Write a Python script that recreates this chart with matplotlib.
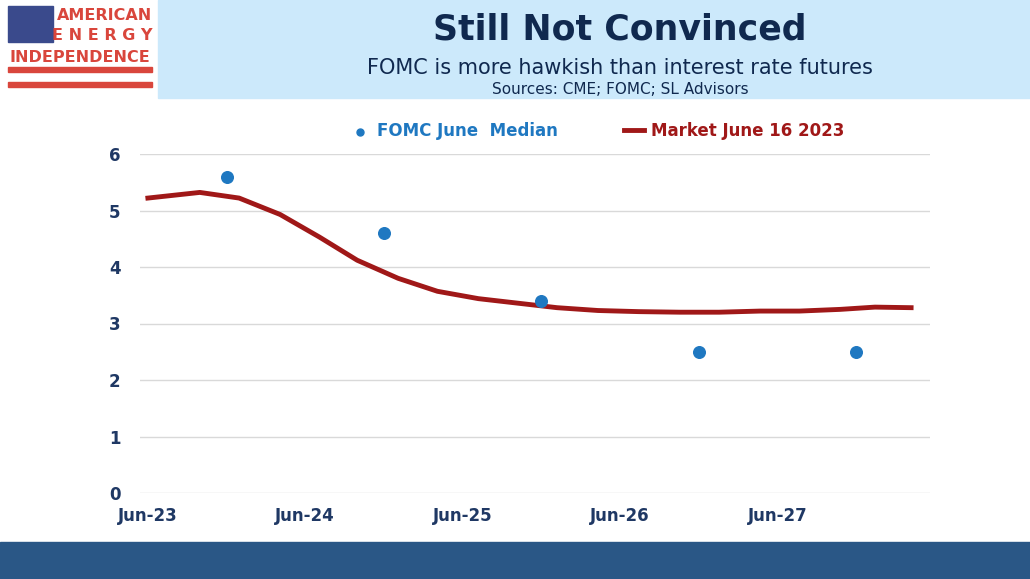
import matplotlib.pyplot as plt
from matplotlib.patches import Rectangle

# years since Jun-23
dot_x = [0.5, 1.5, 2.5, 3.5, 4.5]
dot_y = [5.6, 4.6, 3.4, 2.5, 2.5]
line_x = [0.0, 0.33, 0.58, 0.84, 1.09, 1.33, 1.59, 1.84, 2.1, 2.35, 2.6, 2.86,
          3.12, 3.38, 3.63, 3.89, 4.14, 4.4, 4.62, 4.85]
line_y = [5.22, 5.32, 5.22, 4.93, 4.53, 4.12, 3.8, 3.57, 3.44, 3.36, 3.28, 3.23,
          3.21, 3.2, 3.2, 3.22, 3.22, 3.25, 3.29, 3.28]
tick_pos = [0, 1, 2, 3, 4]
tick_labels = ['Jun-23', 'Jun-24', 'Jun-25', 'Jun-26', 'Jun-27']

plt.rcParams['font.family'] = ['Verdana', 'DejaVu Sans']
fig = plt.figure(figsize=(10.3, 5.79), dpi=100)

# header box and bottom band
fig.patches.append(Rectangle((158/1030, 1-98/579), 872/1030, 98/579,
                             transform=fig.transFigure, color='#cce9fb', zorder=0))
fig.patches.append(Rectangle((0, 0), 1, 37/579, transform=fig.transFigure,
                             color='#2a5786', zorder=0))

# logo
fig.patches.append(Rectangle((8/1030, 1-42/579), 45/1030, 36/579,
                             transform=fig.transFigure, color='#3a4a8c'))
for yy in (72, 87):
    fig.patches.append(Rectangle((8/1030, 1-yy/579), 144/1030, 5/579,
                                 transform=fig.transFigure, color='#d9463c'))
red = '#d9463c'
fig.text(152/1030, 1-15/579, 'AMERICAN', color=red, fontsize=11.5, fontweight='bold',
         ha='right', va='center', family='DejaVu Sans')
fig.text(152/1030, 1-36/579, 'E N E R G Y', color=red, fontsize=11.5, fontweight='bold',
         ha='right', va='center', family='DejaVu Sans')
fig.text(80/1030, 1-57/579, 'INDEPENDENCE', color=red, fontsize=11.5, fontweight='bold',
         ha='center', va='center', family='DejaVu Sans')

# titles
fig.text(620/1030, 1-30/579, 'Still Not Convinced', color='#10294f', fontsize=25,
         fontweight='bold', ha='center', va='center')
fig.text(620/1030, 1-68/579, 'FOMC is more hawkish than interest rate futures',
         color='#10294f', fontsize=15, ha='center', va='center', family='DejaVu Sans')
fig.text(620/1030, 1-90/579, 'Sources: CME; FOMC; SL Advisors',
         color='#10294f', fontsize=11, ha='center', va='center', family='DejaVu Sans')

ax = fig.add_axes([140/1030, 1-493/579, 790/1030, 339/579])
ax.plot(line_x, line_y, color='#a01818', lw=3.5, label='Market June 16 2023', zorder=3)
ax.scatter(dot_x, dot_y, color='#1f78c1', s=70, label='FOMC June  Median', zorder=4)
ax.set_xlim(-0.05, 4.97)
ax.set_ylim(0, 6)
ax.set_yticks(range(7))
ax.set_xticks(tick_pos)
ax.set_xticklabels(tick_labels)
ax.grid(axis='y', color='#d9d9d9', lw=1)
ax.set_axisbelow(True)
for s in ax.spines.values():
    s.set_visible(False)
ax.tick_params(length=0, labelsize=12, labelcolor='#1f3864', pad=10)
for t in ax.get_xticklabels() + ax.get_yticklabels():
    t.set_fontweight('bold')
ax.tick_params(axis='y', pad=14)

h, l = ax.get_legend_handles_labels()
leg = fig.legend(h[::-1], l[::-1], loc='center', bbox_to_anchor=(0.58, 1-131/579),
                 ncol=2, frameon=False, fontsize=12, columnspacing=4,
                 handlelength=1.2, markerscale=0.6, handletextpad=0.4)
for t, c in zip(leg.get_texts(), ['#1f78c1', '#a01818']):
    t.set_color(c)
    t.set_fontweight('bold')

fig.savefig('out.png', dpi=100)
